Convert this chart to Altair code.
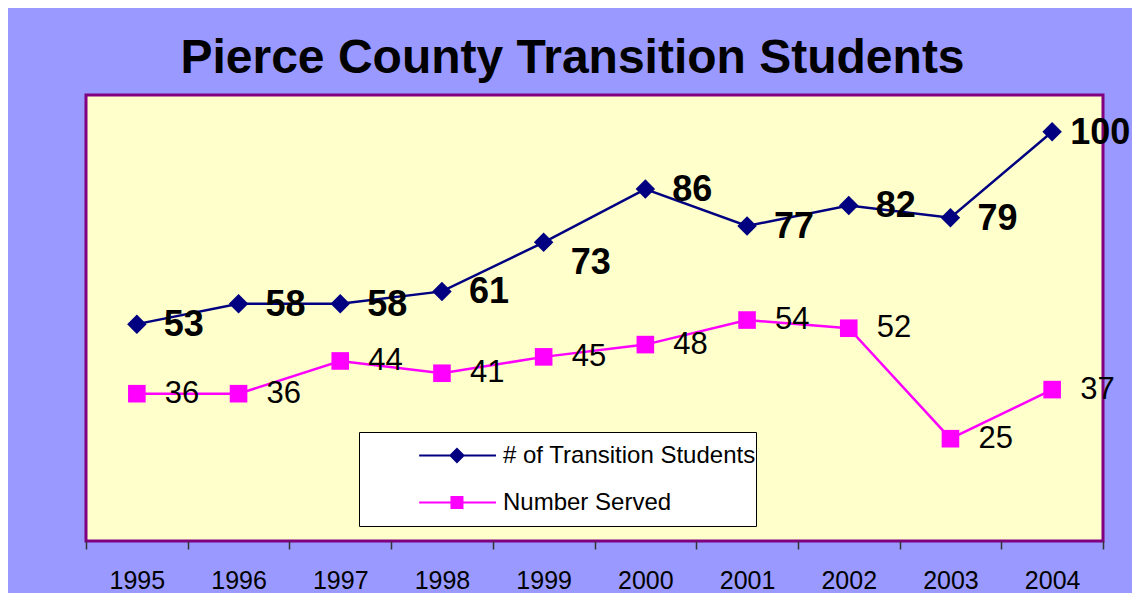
import altair as alt
import pandas as pd

years = ["1995", "1996", "1997", "1998", "1999", "2000", "2001", "2002", "2003", "2004"]
transition_students = [53, 58, 58, 61, 73, 86, 77, 82, 79, 100]
number_served = [36, 36, 44, 41, 45, 48, 54, 52, 25, 37]
series_names = ["# of Transition Students", "Number Served"]

rows = []
for y, v in zip(years, transition_students):
    rows.append({"year": y, "series": series_names[0], "value": v})
for y, v in zip(years, number_served):
    rows.append({"year": y, "series": series_names[1], "value": v})
df = pd.DataFrame(rows)

NAVY = "#000080"
MAGENTA = "#FF00FF"
FONT = "Liberation Sans"

# legend key: line with centred marker
line_path = "M-0.13,0L1,0"
diamond_path = line_path + "M0.33,0L0.426,-0.096L0.522,0L0.426,0.096Z"
square_path = line_path + "M0.345,-0.081L0.507,-0.081L0.507,0.081L0.345,0.081Z"

is_served = "datum.value == 'Number Served'"

legend = alt.Legend(
    title=None,
    orient="none",
    legendX=273,
    legendY=337,
    fillColor="white",
    strokeColor="black",
    padding=0,
    cornerRadius=0,
    symbolSize=136 * 136,
    symbolType={"expr": is_served + " ? '" + square_path + "' : '" + diamond_path + "'"},
    symbolFillColor={"expr": is_served + " ? '" + MAGENTA + "' : '" + NAVY + "'"},
    symbolStrokeColor={"expr": is_served + " ? '" + MAGENTA + "' : '" + NAVY + "'"},
    symbolStrokeWidth=2,
    symbolOpacity=1,
    clipHeight=47,
    rowPadding=0,
    labelOffset=6,
    labelFont=FONT,
    labelFontSize=24,
    labelColor="black",
    labelLimit=0,
)

x_enc = alt.X(
    "year:O",
    sort=years,
    scale=alt.Scale(paddingInner=0, paddingOuter=0),
    axis=alt.Axis(
        title=None,
        labelAngle=0,
        tickBand="extent",
        labelFont=FONT,
        labelFontSize=25,
        labelColor="black",
        labelPadding=19,
        tickSize=8,
        tickColor="#333333",
        tickWidth=1.5,
        domain=False,
    ),
)
y_enc = alt.Y("value:Q", scale=alt.Scale(domain=[0, 109], nice=False, zero=True), axis=None)
color_scale = alt.Scale(domain=series_names, range=[NAVY, MAGENTA])

base = alt.Chart(df)

lines = base.mark_line(strokeWidth=2.5).encode(
    x=x_enc, y=y_enc, color=alt.Color("series:N", scale=color_scale, legend=legend)
)

points_main = base.transform_filter(alt.datum.series == series_names[0]).mark_point(
    filled=True, opacity=1, shape="diamond", size=380, color=NAVY
).encode(x=x_enc, y=y_enc)

points_served = base.transform_filter(alt.datum.series == series_names[1]).mark_point(
    filled=True, opacity=1, shape="square", size=310, color=MAGENTA
).encode(x=x_enc, y=y_enc)

bold_text = dict(align="left", baseline="middle", font=FONT, fontSize=36, fontWeight="bold", color="black")

labels_main = base.transform_filter(
    (alt.datum.series == series_names[0]) & (alt.datum.year != "1999") & (alt.datum.year != "2004")
).mark_text(dx=27, dy=1, **bold_text).encode(x=x_enc, y=y_enc, text="value:Q")

labels_1999 = base.transform_filter(
    (alt.datum.series == series_names[0]) & (alt.datum.year == "1999")
).mark_text(dx=27, dy=21, **bold_text).encode(x=x_enc, y=y_enc, text="value:Q")

labels_2004 = base.transform_filter(
    (alt.datum.series == series_names[0]) & (alt.datum.year == "2004")
).mark_text(dx=18, dy=1, **bold_text).encode(x=x_enc, y=y_enc, text="value:Q")

labels_served = base.transform_filter(
    alt.datum.series == series_names[1]
).mark_text(
    align="left", baseline="middle", dx=28, dy=0, font=FONT, fontSize=31, color="black"
).encode(x=x_enc, y=y_enc, text="value:Q")

chart = alt.layer(
    lines, points_main, points_served, labels_main, labels_1999, labels_2004, labels_served
).properties(
    width=1017,
    height=446,
    title=alt.TitleParams(
        "Pierce County Transition Students",
        font=FONT,
        fontSize=48,
        fontWeight="bold",
        color="black",
        anchor="middle",
        dx=-22,
        offset=12,
    ),
    background="#9999FF",
    padding={"left": 78, "top": 87, "right": 29, "bottom": 52},
    autosize=alt.AutoSizeParams(type="none"),
).configure_view(
    fill="#FFFFCC", stroke="#800080", strokeWidth=3
)

chart.save("out.html", embed_options={"renderer": "svg", "actions": False})
